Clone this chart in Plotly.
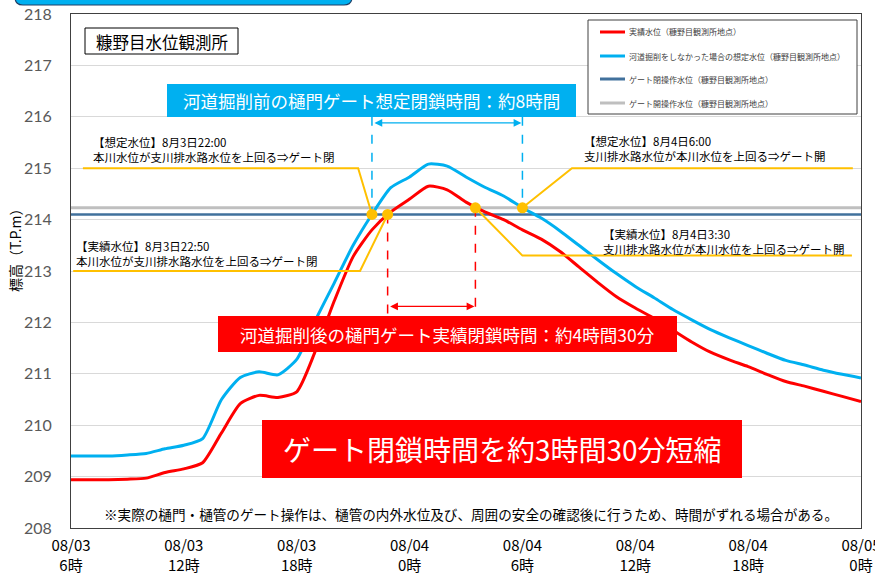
import plotly.graph_objects as go
from datetime import datetime, timedelta

# ---- data -------------------------------------------------------------
START = datetime(2022, 8, 3, 6, 0)
END = START + timedelta(hours=42)
hours = list(range(0, 43))
times = [START + timedelta(hours=h) for h in hours]

# 実績水位（糠野目観測所地点） [T.P.m], hourly from 8/3 6:00
actual_level = [
    208.94, 208.94, 208.94, 208.95, 208.97, 209.08, 209.15, 209.27, 209.85, 210.42,
    210.58, 210.54, 210.65, 211.45, 212.42, 213.28, 213.80, 214.15, 214.40, 214.65,
    214.58, 214.34, 214.15, 214.00, 213.80, 213.62, 213.38, 213.08, 212.78, 212.50,
    212.28, 212.08, 211.85, 211.62, 211.42, 211.27, 211.14, 210.99, 210.85, 210.76,
    210.66, 210.56, 210.46,
]
# 河道掘削をしなかった場合の想定水位（糠野目観測所地点）
estimated_level = [
    209.40, 209.40, 209.40, 209.42, 209.45, 209.54, 209.61, 209.74, 210.50, 210.93,
    211.04, 210.98, 211.28, 212.05, 212.77, 213.50, 214.10, 214.62, 214.83, 215.08,
    215.04, 214.83, 214.63, 214.46, 214.23, 214.03, 213.78, 213.50, 213.22, 212.95,
    212.70, 212.48, 212.25, 212.05, 211.86, 211.70, 211.55, 211.40, 211.26, 211.17,
    211.07, 210.99, 210.92,
]
gate_close_level = 214.10   # ゲート閉操作水位
gate_open_level = 214.23    # ゲート開操作水位

# gate events: 想定閉, 実績閉, 実績開, 想定開
event_times = ["2022-08-03 22:00", "2022-08-03 22:50", "2022-08-04 03:30", "2022-08-04 06:00"]
event_levels = [gate_close_level, gate_close_level, gate_open_level, gate_open_level]

# leader lines from the event points to their captions
est_close_leader_t = ["2022-08-03 06:38", "2022-08-03 21:16", "2022-08-03 22:00"]
est_close_leader_v = [215.0, 215.0, gate_close_level]
act_close_leader_t = ["2022-08-03 06:07", "2022-08-03 21:22", "2022-08-03 22:50"]
act_close_leader_v = [213.0, 213.0, gate_close_level]
act_open_leader_t = ["2022-08-04 03:30", "2022-08-04 06:00", "2022-08-04 23:31"]
act_open_leader_v = [gate_open_level, 213.3, 213.3]
est_open_leader_t = ["2022-08-04 06:00", "2022-08-04 08:38", "2022-08-04 23:34"]
est_open_leader_v = [gate_open_level, 215.0, 215.0]

est_span_top = 216.0       # top of the 想定 dashed markers
est_arrow_level = 215.88
act_span_bottom = 212.14   # bottom of the 実績 dashed markers
act_arrow_level = 212.31

tick_times = [START + timedelta(hours=6 * k) for k in range(8)]
tick_text = [f"{t:%m/%d}<br>{t.hour}時" for t in tick_times]

# ---- styling ----------------------------------------------------------
RED = "#FF0000"
BLUE = "#00B0F0"
NAVY = "#41719C"
GRAY = "#BFBFBF"
YELLOW = "#FFC000"
JP = "Noto Sans CJK JP"

L, R, T, B = 71, 14, 14, 49
W, H = 875, 577
PW, PH = W - L - R, H - T - B


def px(x):
    return (x - L) / PW


def py(y):
    return (H - B - y) / PH


fig = go.Figure()

# gate operation levels
fig.add_trace(go.Scatter(x=[START, END], y=[gate_open_level] * 2, mode="lines",
                         line=dict(color=GRAY, width=3), hoverinfo="skip"))
fig.add_trace(go.Scatter(x=[START, END], y=[gate_close_level] * 2, mode="lines",
                         line=dict(color=NAVY, width=2.5), hoverinfo="skip"))

# water levels
fig.add_trace(go.Scatter(x=times, y=actual_level, mode="lines",
                         line=dict(color=RED, width=3, shape="spline", smoothing=0.6)))
fig.add_trace(go.Scatter(x=times, y=estimated_level, mode="lines",
                         line=dict(color=BLUE, width=3, shape="spline", smoothing=0.6)))

# dashed markers of the closure spans
for t, v in zip([event_times[0], event_times[3]], [event_levels[0], event_levels[3]]):
    fig.add_trace(go.Scatter(x=[t, t], y=[est_span_top, v], mode="lines",
                             line=dict(color=BLUE, width=1.5, dash="dash")))
for t, v in zip([event_times[1], event_times[2]], [event_levels[1], event_levels[2]]):
    fig.add_trace(go.Scatter(x=[t, t], y=[v, act_span_bottom], mode="lines",
                             line=dict(color=RED, width=1.5, dash="dash")))

# caption leader lines
for lt, lv in [(est_close_leader_t, est_close_leader_v), (act_close_leader_t, act_close_leader_v),
               (act_open_leader_t, act_open_leader_v), (est_open_leader_t, est_open_leader_v)]:
    fig.add_trace(go.Scatter(x=lt, y=lv, mode="lines", line=dict(color=YELLOW, width=2)))

# gate event points
fig.add_trace(go.Scatter(x=event_times, y=event_levels, mode="markers",
                         marker=dict(color=YELLOW, size=11)))

annotations = []
# span arrows
annotations.append(dict(x=event_times[3], y=est_arrow_level, ax=event_times[0], ay=est_arrow_level,
                        xref="x", yref="y", axref="x", ayref="y", text="", showarrow=True,
                        arrowside="end+start", arrowhead=2, arrowsize=1.2, arrowwidth=1.3,
                        arrowcolor=BLUE, standoff=1, startstandoff=1))
annotations.append(dict(x=event_times[2], y=act_arrow_level, ax=event_times[1], ay=act_arrow_level,
                        xref="x", yref="y", axref="x", ayref="y", text="", showarrow=True,
                        arrowside="end+start", arrowhead=2, arrowsize=1.2, arrowwidth=1.3,
                        arrowcolor=RED, standoff=1, startstandoff=1))

shapes = []


def box(x0, y0, x1, y1, fill, line=None):
    shapes.append(dict(type="rect", xref="paper", yref="paper", layer="above",
                       x0=px(x0), x1=px(x1), y0=py(y1), y1=py(y0), fillcolor=fill,
                       line=dict(color=line or fill, width=1 if line else 0)))


def label(x, y, text, size, color="black", anchor="left", family=JP):
    annotations.append(dict(x=px(x), y=py(y), xref="paper", yref="paper", text=text,
                            showarrow=False, xanchor=anchor, yanchor="middle", align=anchor,
                            font=dict(family=family, size=size, color=color)))


# header tab at the top edge
x0, x1, yb, yt, r = px(15), px(352), py(5), py(-30), 8
rx, ry = r / PW, r / PH
shapes.append(dict(type="path", xref="paper", yref="paper", layer="above",
                   path=(f"M{x0},{yt} L{x0},{yb + ry} Q{x0},{yb} {x0 + rx},{yb} "
                         f"L{x1 - rx},{yb} Q{x1},{yb} {x1},{yb + ry} L{x1},{yt} Z"),
                   fillcolor=BLUE, line=dict(color="#1F3F66", width=1.2)))

# station name
box(85, 28, 238, 54, "white", "black")
label(161.5, 41.5, "糠野目水位観測所", 16.5, anchor="center")

# headline boxes
box(167, 84, 576, 117, BLUE)
label(371.5, 100.5, "河道掘削前の樋門ゲート想定閉鎖時間：約8時間", 17.5, "white", "center")
box(218, 316, 677, 352, RED)
label(447.5, 334, "河道掘削後の樋門ゲート実績閉鎖時間：約4時間30分", 17.5, "white", "center")
box(262, 420, 742, 478, RED)
label(502, 449, "ゲート閉鎖時間を約3時間30分短縮", 28, "white", "center")

# event captions
label(91, 150, "【想定水位】8月3日22:00<br>本川水位が支川排水路水位を上回る⇒ゲート閉", 11.5)
label(74, 253, "【実績水位】8月3日22:50<br>本川水位が支川排水路水位を上回る⇒ゲート閉", 11.5)
label(582, 149, "【想定水位】8月4日6:00<br>支川排水路水位が本川水位を上回る⇒ゲート開", 11.5)
label(601, 241, "【実績水位】8月4日3:30<br>支川排水路水位が本川水位を上回る⇒ゲート開", 11.5)

# note
label(471, 514, "※実際の樋門・樋管のゲート操作は、樋管の内外水位及び、周囲の安全の確認後に行うため、時間がずれる場合がある。",
      13.6, anchor="center")

# legend
box(588, 20, 857, 114, "white", "#404040")
legend_items = [
    ("実績水位（糠野目観測所地点）", RED, 32),
    ("河道掘削をしなかった場合の想定水位（糠野目観測所地点）", BLUE, 56),
    ("ゲート閉操作水位（糠野目観測所地点）", NAVY, 79),
    ("ゲート開操作水位（糠野目観測所地点）", GRAY, 103),
]
for text, color, y in legend_items:
    shapes.append(dict(type="line", xref="paper", yref="paper", layer="above",
                       x0=px(600), x1=px(625), y0=py(y), y1=py(y), line=dict(color=color, width=3)))
    label(627, y, text, 8, "#404040")

# y-axis title
annotations.append(dict(x=px(15), y=py(247), xref="paper", yref="paper", text="標高（T.P.m）",
                        textangle=-90, showarrow=False, xanchor="center", yanchor="middle",
                        font=dict(family=JP, size=14, color="black")))

fig.update_layout(
    width=W, height=H,
    margin=dict(l=L, r=R, t=T, b=B, autoexpand=False),
    paper_bgcolor="white", plot_bgcolor="white",
    showlegend=False,
    shapes=shapes, annotations=annotations,
    xaxis=dict(type="date", range=[START, END], tickvals=tick_times, ticktext=tick_text,
               showgrid=False, zeroline=False, showline=True, linecolor="#404040", linewidth=1,
               mirror=True, ticks="", ticklabelstandoff=4, ticklabeloverflow="allow",
               tickfont=dict(family=JP, size=15, color="black")),
    yaxis=dict(range=[208, 218], dtick=1, showgrid=True, gridcolor="#D9D9D9", gridwidth=1,
               zeroline=False, showline=True, linecolor="#404040", linewidth=1, mirror=True,
               ticks="", ticklabelstandoff=15,
               tickfont=dict(family="Lato", size=16, color="#595959")),
)

fig.write_html("out.html")
